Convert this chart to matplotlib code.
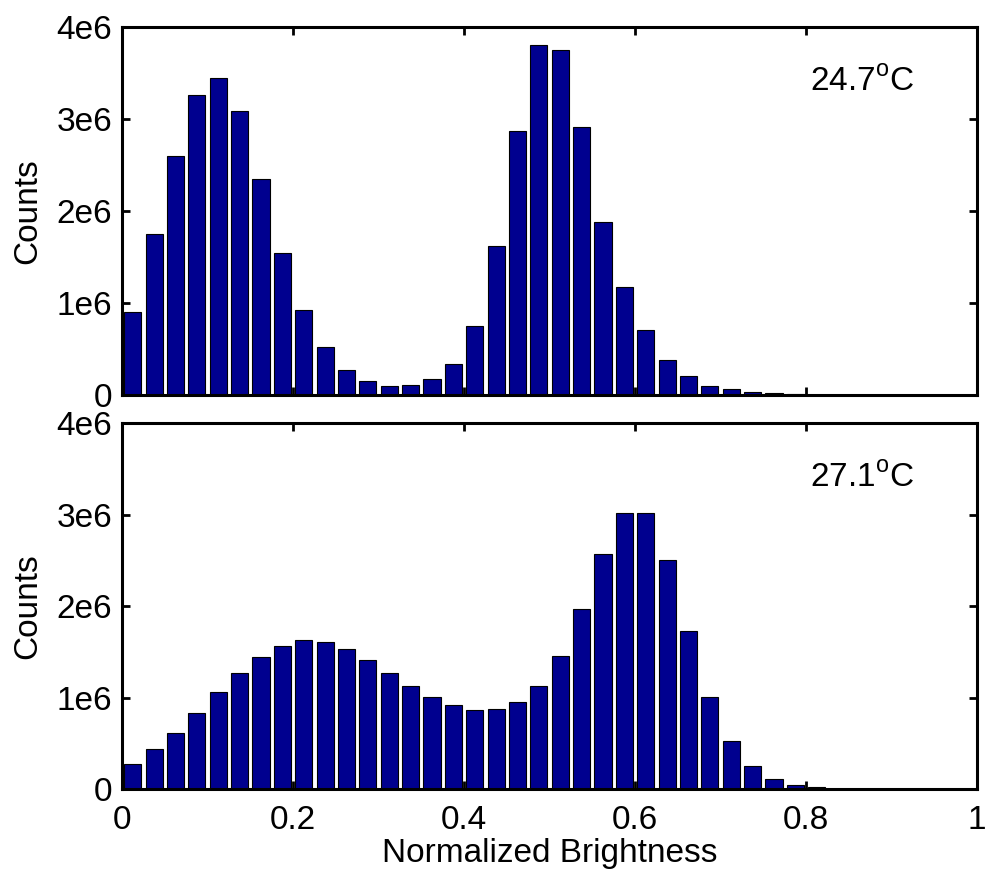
import numpy as np
import matplotlib
matplotlib.use("Agg")
import matplotlib.pyplot as plt

# bin centres of the brightness histogram (40 bins of width 0.025)
bin_centers = np.arange(40) * 0.025 + 0.0125

# counts in units of 1e6
counts_247 = [0.90, 1.75, 2.60, 3.26, 3.45, 3.09, 2.35, 1.54, 0.92, 0.52,
              0.27, 0.15, 0.10, 0.11, 0.17, 0.33, 0.75, 1.62, 2.87, 3.80,
              3.75, 2.91, 1.88, 1.17, 0.70, 0.38, 0.20, 0.10, 0.06, 0.035,
              0.015, 0.005, 0, 0, 0, 0, 0, 0, 0, 0]
counts_271 = [0.28, 0.44, 0.62, 0.83, 1.06, 1.27, 1.45, 1.57, 1.63, 1.61,
              1.53, 1.41, 1.27, 1.13, 1.01, 0.92, 0.87, 0.88, 0.95, 1.13,
              1.46, 1.97, 2.57, 3.02, 3.02, 2.51, 1.73, 1.01, 0.53, 0.25,
              0.11, 0.047, 0.02, 0.005, 0, 0, 0, 0, 0, 0]
labels = [r"24.7$^{\mathrm{o}}$C", r"27.1$^{\mathrm{o}}$C"]

ytick_vals = [0, 1e6, 2e6, 3e6, 4e6]
ytick_labels = ["0", "1e6", "2e6", "3e6", "4e6"]
xtick_vals = [0, 0.2, 0.4, 0.6, 0.8, 1.0]
xtick_labels = ["0", "0.2", "0.4", "0.6", "0.8", "1"]

plt.rcParams["font.family"] = ["Liberation Sans", "DejaVu Sans"]
plt.rcParams["mathtext.fontset"] = "custom"
plt.rcParams["mathtext.rm"] = "Liberation Sans"
plt.rcParams["font.size"] = 24

fig = plt.figure(figsize=(9.89, 8.71), dpi=100)
ax_top = fig.add_axes([0.1234, 0.5468, 0.8645, 0.4222])
ax_bot = fig.add_axes([0.1234, 0.0938, 0.8645, 0.4202])

for ax, counts, lab in [(ax_top, counts_247, labels[0]), (ax_bot, counts_271, labels[1])]:
    ax.bar(bin_centers, np.array(counts) * 1e6, width=0.02,
           color="#00008F", edgecolor="black", linewidth=0.8)
    ax.set_xlim(0, 1)
    ax.set_ylim(0, 4e6)
    ax.set_yticks(ytick_vals)
    ax.set_yticklabels(ytick_labels)
    ax.set_xticks(xtick_vals)
    ax.tick_params(direction="in", length=6, width=2, top=True, right=True)
    ax.tick_params(axis="x", pad=11)
    ax.tick_params(axis="y", pad=7)
    for s in ax.spines.values():
        s.set_linewidth(2.2)
    ax.set_ylabel("Counts")
    ax.yaxis.set_label_coords(-0.092, 0.5)
    ax.text(0.805, 3.31e6, lab, ha="left", va="baseline")

ax_top.set_xticklabels([])
ax_bot.set_xticklabels(xtick_labels)
ax_bot.set_xlabel("Normalized Brightness")
ax_bot.xaxis.set_label_coords(0.5, -0.133)

fig.savefig("out.png", dpi=100, facecolor="white")
